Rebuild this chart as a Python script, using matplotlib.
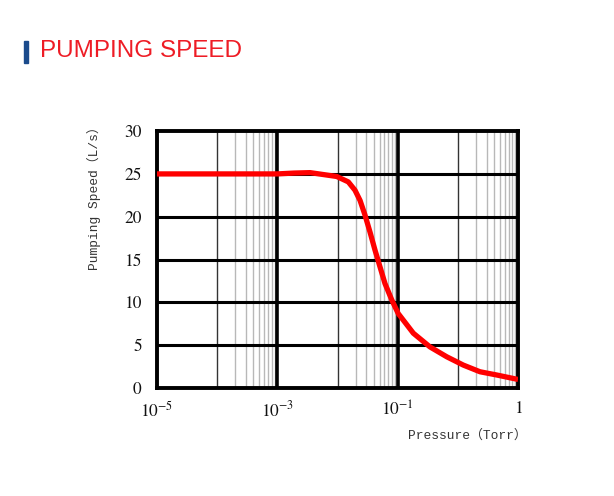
# plot.py
# pumping speed curve of the pump, log pressure axis

import matplotlib
matplotlib.use('Agg')
import matplotlib.pyplot as plt
import numpy as np

# data
pressure = [1e-5, 1e-3, 1.9e-3, 3.5e-3, 9.7e-3, 1.51e-2, 1.95e-2, 2.37e-2,
            2.86e-2, 3.47e-2, 4.2e-2, 5.08e-2, 6.15e-2, 7.96e-2, 0.102,
            0.182, 0.344, 0.653, 1.23, 2.33, 4.43, 10.0]
speed = [25.0, 25.0, 25.1, 25.15, 24.7, 24.07, 23.1, 21.9,
         20.2, 18.2, 16.1, 14.15, 12.2, 10.3, 8.7,
         6.4, 4.8, 3.65, 2.68, 1.9, 1.52, 1.0]

xticks = [1e-5, 1e-3, 1e-1, 1e1]
xticklabels = [r'$10^{-5}$', r'$10^{-3}$', r'$10^{-1}$', '1']
yticks = [0, 5, 10, 15, 20, 25, 30]

thick_decades = [1e-3, 1e-1]
thin_decades = [1e-4, 1e-2, 1e0]
minor_decades = [1e-4, 1e-2, 1e0]

plt.rcParams['mathtext.fontset'] = 'stix'
label_font = ['Liberation Mono', 'Noto Sans CJK SC']

fig = plt.figure(figsize=(6.14, 4.96), dpi=100)
ax = fig.add_axes([0.2557, 0.2177, 0.588, 0.518])
ax.set_xscale('log')
ax.set_xlim(1e-5, 1e1)
ax.set_ylim(0, 30)

# grid lines
for d in minor_decades:
    for k in range(2, 10):
        ax.axvline(d * k, color='#b8b8b8', lw=1.0, zorder=1)
for d in thin_decades:
    ax.axvline(d, color='#333333', lw=1.0, zorder=2)
for d in thick_decades:
    ax.axvline(d, color='black', lw=2.6, zorder=2)
for v in yticks[1:-1]:
    ax.axhline(v, color='black', lw=2.2, zorder=2)

ax.plot(pressure, speed, color='#ff0000', lw=3.8, zorder=5,
        solid_joinstyle='round', solid_capstyle='butt')

for s in ax.spines.values():
    s.set_linewidth(2.8)
    s.set_color('black')

ax.set_xticks(xticks)
ax.set_xticklabels(xticklabels)
ax.xaxis.set_minor_locator(matplotlib.ticker.NullLocator())
ax.set_yticks(yticks)
ax.tick_params(length=0, labelsize=12.5, colors='#111111')
ax.tick_params(axis='y', pad=11)
ax.tick_params(axis='x', pad=9)
for lab in ax.get_xticklabels() + ax.get_yticklabels():
    lab.set_family('STIXGeneral')

ax.text(1.024, -0.16, 'Pressure（Torr）', transform=ax.transAxes,
        ha='right', va='top', fontsize=9.3, family=label_font,
        color='#333333')
ax.text(-0.175, 1.042, 'Pumping Speed（L/s）', transform=ax.transAxes,
        ha='center', va='top', rotation=90, fontsize=9.3,
        family=label_font, color='#333333')

# heading
fig.patches.append(matplotlib.patches.Rectangle(
    (24 / 614, 1 - 63 / 496), 3.5 / 614, 22 / 496,
    transform=fig.transFigure, color='#1b4b8c'))
fig.text(40 / 614, 1 - 51 / 496, 'PUMPING SPEED', color='#ee1c25',
         fontsize=17.5, family='Liberation Sans', va='center', ha='left')

fig.savefig('out.png', dpi=100)
